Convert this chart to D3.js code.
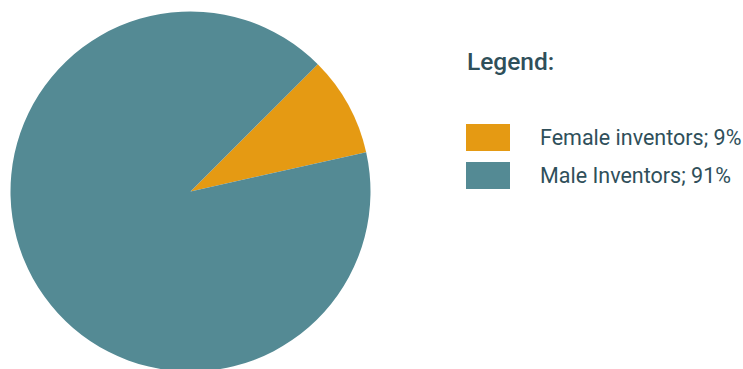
<!DOCTYPE html>
<html>
<head>
<meta charset="utf-8">
<script src="https://cdn.jsdelivr.net/npm/d3@7"></script>
<style>
body{margin:0;background:#fff;}
text{font-family:Roboto,"Noto Sans",sans-serif;}
</style>
</head>
<body>
<div id="root"></div>
<script>
// chart data
var labels=['Female inventors','Male Inventors'];
var values=[9,91];
var colorList=['#e59a13','#548a94'];

var w=743,h=369;
var svg=d3.select('#root').append('svg')
	.attr('width',w)
	.attr('height',h);

var color=d3.scaleOrdinal().domain(labels).range(colorList);

// female slice starts around the 45 degree mark
var pie=d3.pie().sort(null)
	.startAngle(Math.PI/4)
	.endAngle(Math.PI/4+2*Math.PI);

var arc=d3.arc().innerRadius(0).outerRadius(180);

var data=labels.map(function(d,i){return {label:d,value:values[i]}});

var g=svg.append('g').attr('transform','translate(190.5,191.5)');
g.selectAll('path')
	.data(pie.value(function(d){return d.value})(data))
	.enter().append('path')
	.attr('d',arc)
	.attr('fill',function(d){return color(d.data.label)});

// legend
var legend=svg.append('g').attr('transform','translate(466,0)');
legend.append('text')
	.attr('x',1).attr('y',70)
	.attr('font-size',24.5)
	.attr('font-weight',500)
	.attr('fill','#2f4f5a')
	.text('Legend:');

var item=legend.selectAll('.item')
	.data(data).enter().append('g')
	.attr('class','item')
	.attr('transform',function(d,i){return 'translate(0,'+(124+i*38)+')'});

item.append('rect')
	.attr('width',44).attr('height',27)
	.attr('fill',function(d){return color(d.label)});

item.append('text')
	.attr('x',74).attr('y',21)
	.attr('font-size',21.5)
	.attr('fill','#2f4f5a')
	.text(function(d){return d.label+'; '+d.value+'%'});
</script>
</body>
</html>
